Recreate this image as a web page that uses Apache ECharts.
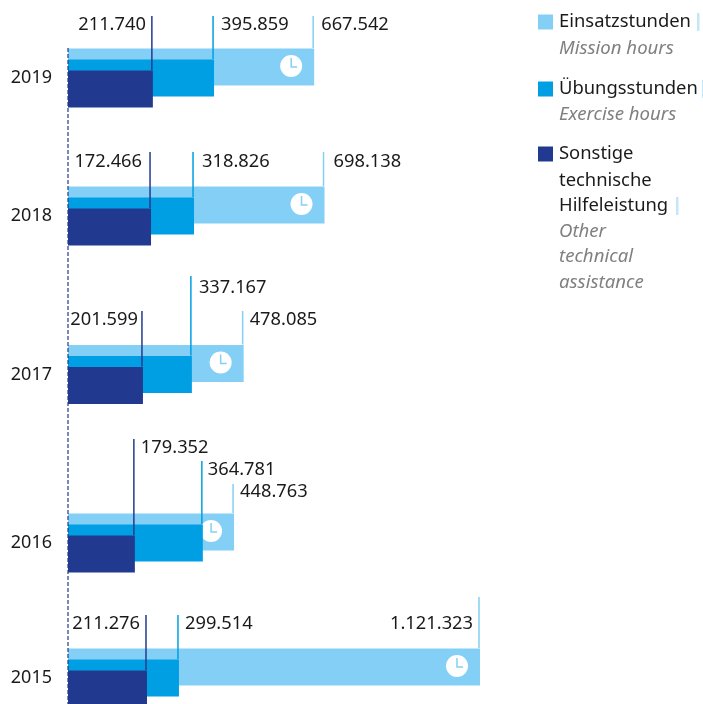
<!DOCTYPE html>
<html>
<head>
<meta charset="utf-8">
<style>
  html, body { margin: 0; background: #fff; }
  #chart { width: 703px; height: 704px; }
</style>
<script src="https://cdn.jsdelivr.net/npm/echarts@6/dist/echarts.min.js"></script>
</head>
<body>
<div id="chart"></div>
<script>
const years = ['2019', '2018', '2017', '2016', '2015'];

// Bar lengths as drawn. Most match the printed figure, but the 2018 and 2019
// "other" bars and the 2018 exercise bar are drawn longer than their labels say.
const missionHours = [670000, 698138, 478085, 452000, 1121323];
const exerciseHours = [397500, 343000, 337167, 367000, 302000];
const otherHours = [231000, 226000, 204000, 182000, 215000];

const missionLabels = ['667.542', '698.138', '478.085', '448.763', '1.121.323'];
const exerciseLabels = ['395.859', '318.826', '337.167', '364.781', '299.514'];
const otherLabels = ['211.740', '172.466', '201.599', '179.352', '211.276'];

const seriesNames = ['Einsatzstunden', 'Übungsstunden', 'Sonstige technische Hilfeleistung'];

const LIGHT = '#84cff5';
const MID = '#009fe3';
const DARK = '#213a8f';
const FONT = '"Noto Sans", sans-serif';
const X_MAX = 1121323;
const LEFT = 68;

// page layout, per year, in [mission, exercise, other] order
const gridTops = [48, 186, 344.5, 513, 648];
const leaderTops = [[16, 16, 16], [152, 152, 152], [311, 276, 311], [484, 461, 439], [597, 615, 615]];
const labelYs = [[25, 25, 25], [162, 162, 162], [320, 288, 320], [492, 470, 448], [624, 624, 624]];
const labelSides = [
  ['right', 'right', 'left'],
  ['right', 'right', 'left'],
  ['right', 'right', 'left'],
  ['right', 'right', 'right'],
  ['left', 'right', 'left'],
];
const labelNudges = [[1, 1, 0], [3, 2, -2], [0, 1, 2], [0, -1, 0], [0, 0, 0]];
const yearLifts = [0, 0, 4, 2, 4];
const barInsets = [0, 11, 22];
const colors = [LIGHT, MID, DARK];

const chart = echarts.init(document.getElementById('chart'), null, { renderer: 'canvas' });

// grid is shorter than the bar group so the lowest year still fits the page
const grids = years.map((y, i) => ({ left: LEFT, width: 412, top: gridTops[i] + 4, height: 52 }));
const xAxes = years.map((y, i) => ({ type: 'value', gridIndex: i, min: 0, max: X_MAX, show: false }));
const yAxes = years.map((y, i) => ({
  type: 'category',
  gridIndex: i,
  data: [y],
  axisLine: { show: false },
  axisTick: { show: false },
  axisLabel: {
    color: '#1a1a1a',
    fontFamily: FONT,
    fontSize: 18,
    margin: 16,
    padding: [0, 0, yearLifts[i], 0],
  },
}));

function barSeries(name, color, value, i, z) {
  return {
    type: 'bar',
    name,
    xAxisIndex: i,
    yAxisIndex: i,
    data: [value],
    barWidth: 37,
    barGap: '-70%',
    clip: false,
    itemStyle: { color },
    z,
    silent: true,
  };
}

function clockSeries(i) {
  return {
    type: 'custom',
    xAxisIndex: i,
    yAxisIndex: i,
    data: [[missionHours[i]]],
    z: 3,
    silent: true,
    renderItem: (params, api) => {
      const cx = api.coord([api.value(0), years[i]])[0] - 23;
      const cy = gridTops[i] + 18;
      return {
        type: 'group',
        children: [
          { type: 'circle', shape: { cx, cy, r: 11 }, style: { fill: '#fff' } },
          {
            type: 'polyline',
            shape: { points: [[cx, cy - 8], [cx, cy + 1], [cx + 6, cy + 1]] },
            style: { stroke: LIGHT, fill: null, lineWidth: 1.5 },
          },
        ],
      };
    },
  };
}

function leaderSeries(i) {
  const texts = [missionLabels[i], exerciseLabels[i], otherLabels[i]];
  return {
    type: 'custom',
    xAxisIndex: i,
    yAxisIndex: i,
    data: [[missionHours[i], 0], [exerciseHours[i], 1], [otherHours[i], 2]],
    z: 6,
    silent: true,
    renderItem: (params, api) => {
      const k = api.value(1);
      const x = api.coord([api.value(0), years[i]])[0] - 1;
      const right = labelSides[i][k] === 'right';
      return {
        type: 'group',
        children: [
          {
            type: 'line',
            shape: { x1: x, y1: leaderTops[i][k], x2: x, y2: gridTops[i] + barInsets[k] },
            style: { stroke: colors[k], lineWidth: 1.5 },
          },
          {
            type: 'text',
            x: (right ? x + 7 : x - 6) + labelNudges[i][k],
            y: labelYs[i][k],
            style: {
              text: texts[k],
              fill: '#1a1a1a',
              font: '18.3px ' + FONT,
              align: right ? 'left' : 'right',
              verticalAlign: 'middle',
            },
          },
        ],
      };
    },
  };
}

const series = [];
years.forEach((y, i) => {
  series.push(barSeries(seriesNames[0], LIGHT, missionHours[i], i, 2));
  series.push(clockSeries(i));
  series.push(barSeries(seriesNames[1], MID, exerciseHours[i], i, 4));
  series.push(barSeries(seriesNames[2], DARK, otherHours[i], i, 5));
  series.push(leaderSeries(i));
});

// dashed baseline running down through all the years
series.push({
  type: 'custom',
  xAxisIndex: 0,
  yAxisIndex: 0,
  data: [[0]],
  z: 7,
  silent: true,
  renderItem: (params, api) => {
    const x = api.coord([0, years[0]])[0];
    return {
      type: 'line',
      shape: { x1: x, y1: gridTops[0], x2: x, y2: 704 },
      style: { stroke: DARK, lineWidth: 1.2, lineDash: [4, 2] },
    };
  },
});

const legendFirstLines = ['Einsatzstunden', 'Übungsstunden', 'Sonstige'];
const legendTops = [8, 75, 140];
const legends = seriesNames.map((name, i) => ({
  data: [name],
  left: 533,
  top: legendTops[i],
  icon: 'rect',
  itemWidth: 15,
  itemHeight: 15,
  selectedMode: false,
  formatter: () => legendFirstLines[i],
  textStyle: { color: '#1a1a1a', fontFamily: FONT, fontSize: 18.4, padding: [0, 0, 0, 1] },
}));

const legendLines = [
  ['Mission hours', 49, true],
  ['Exercise hours', 115, true],
  ['technische', 181, false],
  ['Hilfeleistung', 206, false],
  ['Other', 232, true],
  ['technical', 257, true],
  ['assistance', 283, true],
];
const legendBars = [[697, 13], [702, 80], [676, 197]];

const graphic = [
  ...legendLines.map(([text, y, italic]) => ({
    type: 'text',
    left: 559,
    top: y - 12,
    style: {
      text,
      fill: italic ? '#808080' : '#1a1a1a',
      font: (italic ? 'italic 18.6px ' : '18.4px ') + FONT,
      lineHeight: 24,
    },
  })),
  ...legendBars.map(([x, y]) => ({
    type: 'rect',
    shape: { x, y, width: 2.5, height: 18 },
    style: { fill: '#c5e6f8' },
  })),
];

chart.setOption({
  animation: false,
  backgroundColor: '#fff',
  grid: grids,
  xAxis: xAxes,
  yAxis: yAxes,
  legend: legends,
  graphic,
  series,
});
</script>
</body>
</html>
